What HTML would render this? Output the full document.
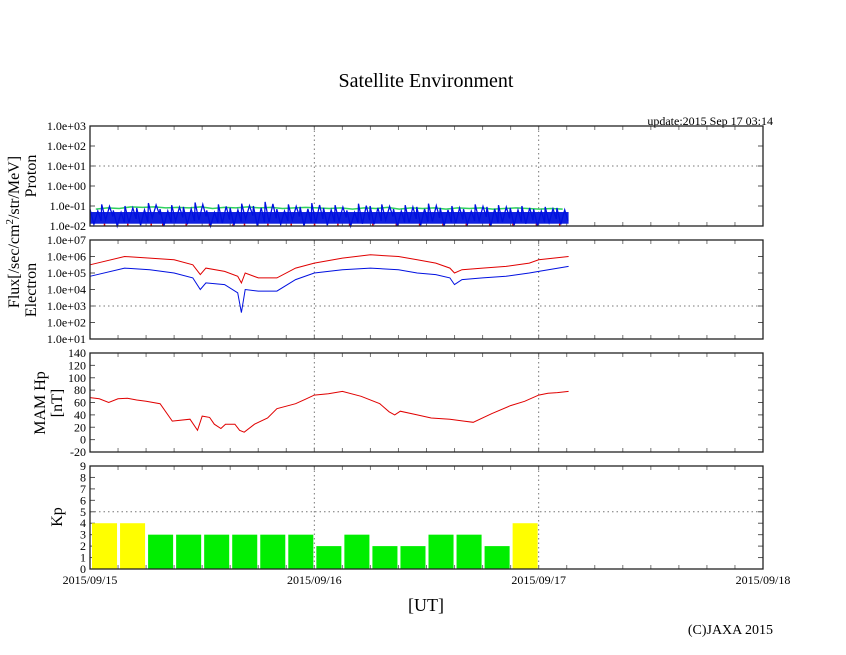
<!DOCTYPE html>
<html><head><meta charset="utf-8"><style>
body{margin:0;background:#fff}
svg{display:block;font-family:"Liberation Serif",serif}
</style></head><body>
<svg id="c" width="846" height="655">
<text x="426" y="87" text-anchor="middle" font-size="20">Satellite Environment</text>
<text x="773" y="125" text-anchor="end" font-size="12">update:2015 Sep 17 03:14</text>
<text x="773" y="634" text-anchor="end" font-size="14">(C)JAXA 2015</text>
<text x="426" y="611" text-anchor="middle" font-size="18">[UT]</text>
<g id="g"></g>
</svg>
<script>
const xTickLabels=["2015/09/15","2015/09/16","2015/09/17","2015/09/18"];
const protonTicks=["1.0e+03","1.0e+02","1.0e+01","1.0e+00","1.0e-01","1.0e-02"];
const electronTicks=["1.0e+07","1.0e+06","1.0e+05","1.0e+04","1.0e+03","1.0e+02","1.0e+01"];
const mamTicks=[140,120,100,80,60,40,20,0,-20];
const kpTicks=[9,8,7,6,5,4,3,2,1,0];
const hpHours=[0,1,2,3,4,5,6,7.5,8.8,10.7,11.5,12,12.8,13.3,14,14.5,15.5,16,16.5,17.6,19,20,22,23,24,25.5,27,29,31,32,32.6,33.2,35,36.5,38.5,40,41,43,45,46.5,48,49,50,51.2];
const hpValues=[68,66,60,66,67,64,62,58,30,33,15,38,36,25,18,25,25,15,12,25,35,50,58,65,72,74,78,70,58,45,40,46,40,35,33,30,28,42,55,62,72,75,76,78];
const eHours=[0,3.7,6.4,9,11,11.8,12.4,14.4,15.8,16.2,16.6,18,20,22,24,27,30,33,35,37,38.5,39,39.8,42,44.5,47,48,51.2];
const eRedLog=[5.5,6.0,5.9,5.8,5.5,4.9,5.3,5.1,4.8,4.4,5.0,4.7,4.7,5.3,5.6,5.9,6.1,6.0,5.8,5.6,5.3,5.0,5.2,5.3,5.4,5.6,5.8,6.0];
const eBlueLog=[4.8,5.3,5.2,5.0,4.7,4.0,4.4,4.3,3.8,2.6,4.0,3.9,3.9,4.6,5.0,5.2,5.3,5.2,5.0,4.9,4.7,4.3,4.6,4.7,4.8,5.0,5.1,5.4];
const pBlueTop=[0.07,0.12,0.06,0.1,0.08,0.14,0.07,0.11,0.09,0.15,0.06,0.12,0.08,0.13,0.1,0.16,0.07,0.12,0.09,0.14,0.08,0.11,0.06,0.13,0.1,0.12,0.07,0.11,0.09,0.13,0.08,0.1,0.07,0.12,0.09,0.11,0.08,0.1,0.07,0.09,0.08];
const pBlueLow=[0.012,0.02,0.01,0.015,0.011,0.025,0.01,0.018,0.012,0.02,0.01,0.014,0.011,0.022,0.01,0.016,0.012,0.02,0.01,0.015,0.011,0.018,0.01,0.013,0.012,0.02,0.01,0.015,0.011,0.017,0.01,0.014,0.012,0.019,0.01,0.016,0.011,0.013,0.01,0.015,0.012];
const pGreen=[0.07,0.08,0.075,0.09,0.085,0.09,0.08,0.085,0.08,0.09,0.075,0.085,0.08,0.09,0.08,0.085,0.075,0.08,0.085,0.08,0.075,0.08,0.07,0.08,0.075,0.085,0.07,0.08,0.075,0.08,0.07,0.08,0.075,0.08,0.07,0.075,0.08,0.075,0.07,0.075,0.07];
const pRed=[0.01,0.02,0.01,0.03,0.01,0.015,0.04,0.01,0.02,0.01,0.03,0.01,0.012,0.05,0.01,0.02,0.01,0.025,0.01,0.03,0.01,0.015,0.04,0.01,0.02,0.01,0.03,0.01,0.02,0.01,0.035,0.01,0.02,0.01,0.03,0.01,0.015,0.01,0.025,0.01,0.02];
const kpValues=[4,4,3,3,3,3,3,3,2,3,2,2,3,3,2,4];

const NS="http://www.w3.org/2000/svg",G=document.getElementById('g');
const X0=90,X1=763,DAYS=3;
const xs=h=>X0+(X1-X0)*h/(24*DAYS);
function el(t,a,p){const e=document.createElementNS(NS,t);for(const k in a)e.setAttribute(k,a[k]);(p||G).appendChild(e);return e;}
function txt(x,y,s,a,fs){const e=el('text',{x:x,y:y,'text-anchor':a,'font-size':fs});e.textContent=s;return e;}
function panel(name,top,bot,labels,gridIdx){
  const p=el('g',{});
  
  
  const n=labels.length;
  labels.forEach((l,i)=>{const y=top+(bot-top)*i/(n-1);
    const t=txt(86,y+4,String(l),'end',12);
    el('line',{x1:X0,x2:X0+5,y1:y,y2:y,stroke:'#555'},p);el('line',{x1:X1-5,x2:X1,y1:y,y2:y,stroke:'#555'},p);
    if(gridIdx.includes(i))el('line',{x1:X0,x2:X1,y1:y,y2:y,stroke:'#777','stroke-dasharray':'1.5,3'},p);});
  for(let h=3;h<72;h+=3){const x=xs(h);el('line',{x1:x,x2:x,y1:top,y2:top+4,stroke:'#777'},p);el('line',{x1:x,x2:x,y1:bot-4,y2:bot,stroke:'#777'},p);}
  [24,48].forEach(h=>el('line',{x1:xs(h),x2:xs(h),y1:top,y2:bot,stroke:'#777','stroke-dasharray':'1.5,3'},p));
  return p;}
function frame(top,bot){return el('rect',{x:X0,y:top,width:X1-X0,height:bot-top,fill:'none',stroke:'#222','stroke-width':1.3});}
function line(hours,vals,fy,col,name){const d=hours.map((h,i)=>(i?'L':'M')+xs(h).toFixed(1)+','+fy(vals[i]).toFixed(1)).join('');const e=el('path',{d:d,fill:'none',stroke:col,'stroke-width':1});}

// Proton
const pT=126,pB=226,pY=v=>pT+(3-Math.log10(v))*(pB-pT)/5;
panel('proton',pT,pB,protonTicks,[2]);
const N=pBlueTop.length,END=51.2,step=END/N,ph=i=>step*i;
(function(){
let dr='';pRed.forEach((v,i)=>{const x=xs(ph(i)+0.3);dr+='M'+x.toFixed(1)+','+pB+'L'+x.toFixed(1)+','+pY(v).toFixed(1);});
const r=el('path',{d:dr,fill:'none',stroke:'#e00000','stroke-width':1.5});
let dg='';pGreen.forEach((v,i)=>{dg+=(i?'L':'M')+xs(ph(i)+step/2).toFixed(1)+','+pY(v).toFixed(1);});
const gl=el('path',{d:dg,fill:'none',stroke:'#30d060','stroke-width':1.5});
const band=el('rect',{x:xs(0),y:pY(0.05),width:xs(END)-xs(0),height:pY(0.013)-pY(0.05),fill:'#1020e0'});
let db='';pBlueTop.forEach((v,i)=>{const x=xs(ph(i)),xm=xs(ph(i)+step/3),x2=xs(ph(i)+2*step/3),x3=xs(ph(i)+0.95*step);
db+=(i?'L':'M')+x.toFixed(1)+','+pY(v).toFixed(1)+'L'+xm.toFixed(1)+','+pY(pBlueLow[i]).toFixed(1)+'L'+x2.toFixed(1)+','+pY(v*0.8).toFixed(1)+'L'+x3.toFixed(1)+','+pY(pBlueLow[i]*1.5).toFixed(1);});
const b=el('path',{d:db,fill:'none',stroke:'#0010e0','stroke-width':1.3});})();
frame(pT,pB);

// Electron
const eT=240,eB=339,eY=l=>eT+(7-l)*(eB-eT)/6;
panel('electron',eT,eB,electronTicks,[4]);
line(eHours,eRedLog,eY,'#e00000','electron-red-series');
line(eHours,eBlueLog,eY,'#0010e0','electron-blue-series');
frame(eT,eB);

// MAM Hp
const mT=353,mB=452,mY=v=>mT+(140-v)*(mB-mT)/160;
panel('mam-hp',mT,mB,mamTicks,[]);
line(hpHours,hpValues,mY,'#e00000','mam-hp-series');
frame(mT,mB);

// Kp
const kT=466,kB=569,kY=v=>kT+(9-v)*(kB-kT)/9;
panel('kp',kT,kB,kpTicks,[4]);
kpValues.forEach((v,i)=>{const x=xs(i*3)+2,w=xs(3)-X0-3;const r=el('rect',{x:x,y:kY(v),width:w,height:kB-kY(v),fill:v>=4?'#ffff00':'#00ee00'});

});
frame(kT,kB);

xTickLabels.forEach((l,i)=>{const t=txt(xs(i*24),584,l,'middle',12);});

function ylab(x,y,s,name,fs){const t=el('text',{x:0,y:0,'text-anchor':'middle','font-size':fs,transform:`translate(${x},${y}) rotate(-90)`});t.innerHTML=s;}
ylab(19,232,'Flux[/sec/cm<tspan dy="-6" font-size="11">2</tspan><tspan dy="6">/str/MeV]</tspan>','flux-axis-title',16);
ylab(36,176,'Proton','proton-axis-title',16);
ylab(36,290,'Electron','electron-axis-title',16);
ylab(45,403,'MAM Hp','mam-hp-axis-title',16);
ylab(62,403,'[nT]','mam-hp-unit',16);
ylab(62,517,'Kp','kp-axis-title',16);
</script>
</body></html>
